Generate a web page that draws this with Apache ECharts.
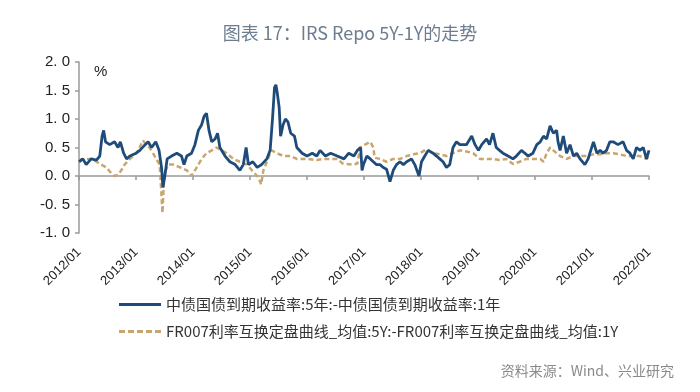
<!DOCTYPE html>
<html>
<head>
<meta charset="utf-8">
<script src="https://cdn.jsdelivr.net/npm/echarts@6/dist/echarts.min.js"></script>
<style>
html,body{margin:0;padding:0;background:#fff;}
#chart{width:700px;height:392px;}
</style>
</head>
<body>
<div id="chart"></div>
<script>
// ---- data ----
const titleText = '图表 17：IRS Repo 5Y-1Y的走势';
const sourceText = '资料来源：Wind、兴业研究';
const unitText = '%';
const seriesNames = ['中债国债到期收益率:5年:-中债国债到期收益率:1年', 'FR007利率互换定盘曲线_均值:5Y:-FR007利率互换定盘曲线_均值:1Y'];
const yTicks = [-1.0, -0.5, 0.0, 0.5, 1.0, 1.5, 2.0];

const cgbDates = ['2012-01-01','2012-01-26','2012-02-16','2012-03-19','2012-04-22','2012-05-13','2012-05-28','2012-06-07','2012-06-19','2012-07-16','2012-08-16','2012-09-07','2012-09-22','2012-10-13','2012-11-01','2012-11-22',
'2013-01-01','2013-01-25','2013-02-28','2013-03-19','2013-04-10','2013-05-07','2013-05-28','2013-06-13','2013-06-22','2013-07-04','2013-07-19','2013-08-16','2013-09-19','2013-10-19','2013-11-04','2013-11-22','2013-12-22',
'2014-01-13','2014-02-04','2014-02-25','2014-03-13','2014-03-28','2014-04-13','2014-05-01','2014-05-22','2014-06-07','2014-06-22','2014-07-25','2014-08-25','2014-09-28','2014-10-28','2014-11-19','2014-12-07','2014-12-22',
'2015-01-19','2015-02-16','2015-03-16','2015-04-19','2015-05-10','2015-05-25','2015-06-07','2015-06-16','2015-06-25','2015-07-07','2015-07-16','2015-08-01','2015-08-16','2015-09-01','2015-09-19','2015-10-13','2015-10-28','2015-12-01',
'2016-01-01','2016-02-04','2016-03-04','2016-03-25','2016-04-28','2016-06-01','2016-07-13','2016-08-25','2016-09-25','2016-10-28','2016-11-19','2016-12-10','2016-12-19','2016-12-28',
'2017-01-19','2017-02-10','2017-03-01','2017-03-22','2017-04-13','2017-05-04','2017-05-25','2017-06-16','2017-07-07','2017-07-28','2017-08-19','2017-09-10','2017-10-01','2017-11-01','2017-11-22','2017-12-19',
'2018-01-04','2018-01-25','2018-02-16','2018-03-19','2018-04-10','2018-05-01','2018-05-22','2018-06-13','2018-07-04','2018-07-25','2018-08-16','2018-09-07','2018-10-19','2018-11-22','2018-12-13',
'2019-01-04','2019-01-25','2019-02-25','2019-03-16','2019-04-07','2019-04-28','2019-05-19','2019-06-10','2019-07-13','2019-08-13','2019-09-04','2019-10-07','2019-10-28','2019-11-19','2019-12-19',
'2020-01-13','2020-02-04','2020-02-25','2020-03-16','2020-04-07','2020-04-28','2020-05-19','2020-05-28','2020-06-10','2020-07-01','2020-07-22','2020-08-13','2020-09-04','2020-09-25','2020-10-16','2020-11-16','2020-12-07',
'2021-01-10','2021-02-01','2021-02-22','2021-03-13','2021-04-04','2021-04-25','2021-05-16','2021-06-16','2021-07-19','2021-08-10','2021-09-01','2021-09-22','2021-10-13','2021-11-04','2021-11-25','2021-12-16','2022-01-01'];
const cgbSpread = [0.25,0.3,0.2,0.3,0.28,0.35,0.7,0.8,0.6,0.55,0.6,0.5,0.6,0.4,0.3,0.35,
0.4,0.45,0.55,0.6,0.5,0.6,0.45,0.15,-0.2,0.0,0.3,0.35,0.4,0.35,0.2,0.35,0.4,
0.55,0.8,0.9,1.05,1.1,0.8,0.6,0.65,0.75,0.5,0.35,0.25,0.2,0.1,0.2,0.5,0.2,
0.25,0.15,0.2,0.3,0.45,1.0,1.55,1.6,1.45,1.2,0.7,0.9,1.0,0.95,0.75,0.7,0.5,0.4,
0.35,0.4,0.35,0.45,0.35,0.4,0.35,0.3,0.4,0.35,0.45,0.5,0.1,0.2,
0.35,0.3,0.25,0.2,0.2,0.15,0.12,-0.1,0.1,0.2,0.25,0.2,0.25,0.3,0.2,0.0,
0.25,0.35,0.45,0.4,0.35,0.3,0.25,0.15,0.2,0.5,0.6,0.55,0.55,0.7,0.55,
0.45,0.55,0.65,0.55,0.75,0.5,0.45,0.4,0.35,0.3,0.35,0.45,0.4,0.35,0.4,
0.55,0.6,0.7,0.65,0.88,0.75,0.8,0.6,0.45,0.7,0.4,0.55,0.35,0.4,0.3,0.2,0.3,
0.6,0.4,0.45,0.4,0.45,0.6,0.6,0.55,0.6,0.45,0.4,0.3,0.5,0.45,0.5,0.3,0.45];

const irsDates = ['2012-01-01','2012-02-15','2012-03-19','2012-04-22','2012-05-22','2012-06-25','2012-07-25','2012-08-16','2012-09-07','2012-09-28','2012-10-19','2012-11-22','2012-12-13',
'2013-01-01','2013-01-16','2013-02-01','2013-02-15','2013-03-07','2013-03-28','2013-04-19','2013-05-10','2013-06-01','2013-06-10','2013-06-19','2013-06-28','2013-07-10','2013-07-25','2013-08-28','2013-10-10','2013-11-22','2013-12-22',
'2014-01-13','2014-02-04','2014-02-25','2014-03-28','2014-05-01','2014-06-01','2014-07-04','2014-08-04','2014-09-16','2014-10-28','2014-12-13',
'2015-01-13','2015-02-16','2015-03-07','2015-03-13','2015-03-28','2015-04-19','2015-05-10','2015-05-19','2015-06-22','2015-08-04','2015-09-16','2015-10-28',
'2016-01-01','2016-03-04','2016-04-16','2016-07-13','2016-08-16','2016-10-25','2016-11-19','2016-12-07',
'2017-01-07','2017-02-10','2017-03-01','2017-03-10','2017-04-13','2017-05-25','2017-07-07','2017-08-19','2017-10-01','2017-11-13','2017-12-25',
'2018-02-07','2018-03-19','2018-05-01','2018-06-13','2018-07-25','2018-09-07','2018-10-19','2018-12-01',
'2019-01-13','2019-02-25','2019-04-07','2019-05-19','2019-07-01','2019-08-13','2019-09-25','2019-11-07','2019-12-19',
'2020-02-04','2020-02-25','2020-03-16','2020-04-07','2020-04-28','2020-06-10','2020-07-22','2020-09-04','2020-10-16','2020-11-28',
'2021-01-10','2021-02-22','2021-04-04','2021-05-16','2021-06-28','2021-08-10','2021-09-22','2021-11-04','2021-12-16','2022-01-01'];
const irsSpread = [0.28,0.3,0.3,0.25,0.2,0.15,0.05,0.0,0.02,0.1,0.2,0.3,0.35,
0.4,0.45,0.55,0.62,0.55,0.5,0.4,0.3,0.2,-0.2,-0.65,-0.1,0.1,0.2,0.2,0.15,0.1,0.0,
0.1,0.2,0.3,0.4,0.45,0.5,0.45,0.4,0.3,0.25,0.2,
0.1,0.0,-0.1,-0.15,0.1,0.25,0.4,0.45,0.4,0.35,0.35,0.3,
0.3,0.28,0.3,0.3,0.22,0.2,0.22,0.5,
0.55,0.6,0.5,0.32,0.3,0.25,0.3,0.3,0.35,0.38,0.4,
0.47,0.4,0.38,0.35,0.4,0.45,0.43,0.4,
0.3,0.3,0.3,0.28,0.3,0.21,0.25,0.3,0.3,
0.3,0.25,0.4,0.5,0.45,0.35,0.3,0.35,0.35,0.35,
0.38,0.38,0.4,0.4,0.38,0.35,0.35,0.35,0.3,0.35];

const xMin = '2012-01-01';
const xMax = '2022-01-01';

// ---- chart ----
const chart = echarts.init(document.getElementById('chart'), null, {renderer: 'canvas'});
const cgbData = cgbDates.map((d, i) => [d, cgbSpread[i]]);
const irsData = irsDates.map((d, i) => [d, irsSpread[i]]);
const YEAR = 365 * 24 * 3600 * 1000;
const solidIcon = 'path://M0,0h42v3h-42z';
const dashIcon = 'path://M0,0h6v3h-6z M9,0h6v3h-6z M18,0h6v3h-6z M27,0h6v3h-6z M36,0h6v3h-6z';

chart.setOption({
  backgroundColor: '#ffffff',
  animation: false,
  title: {
    text: titleText,
    left: 'center',
    top: 19,
    textStyle: {fontFamily: 'Noto Sans CJK SC', fontSize: 18, fontWeight: 'normal', color: '#6d7d90'}
  },
  legend: {
    orient: 'vertical',
    left: 114,
    top: 292,
    itemWidth: 42,
    itemHeight: 3,
    itemGap: 12,
    data: [{name: seriesNames[0], icon: solidIcon}, {name: seriesNames[1], icon: dashIcon}],
    textStyle: {fontFamily: 'Noto Sans CJK SC', fontSize: 15, color: '#333'}
  },
  grid: {left: 79, right: 51, top: 62, bottom: 159, containLabel: false},
  xAxis: {
    type: 'time',
    min: xMin,
    max: xMax,
    minInterval: YEAR,
    maxInterval: YEAR + 2 * 24 * 3600 * 1000,
    splitNumber: 10,
    axisLine: {onZero: true, lineStyle: {color: '#9a9a9a', width: 1.5}},
    axisTick: {show: true, length: 4, lineStyle: {color: '#9a9a9a', width: 1.5}},
    splitLine: {show: false},
    axisLabel: {
      rotate: 45,
      margin: 17,
      fontFamily: 'Liberation Sans',
      fontSize: 13,
      color: '#222',
      hideOverlap: false,
      showMinLabel: true,
      showMaxLabel: true,
      formatter: function (v) { return echarts.time.format(v, '{yyyy}/{MM}', false); }
    }
  },
  yAxis: {
    type: 'value',
    min: yTicks[0],
    max: yTicks[yTicks.length - 1],
    interval: 0.5,
    axisLine: {show: true, lineStyle: {color: '#9a9a9a', width: 1.5}},
    axisTick: {show: true, length: 4, lineStyle: {color: '#9a9a9a', width: 1.5}},
    splitLine: {show: false},
    axisLabel: {
      margin: 9,
      fontFamily: 'Liberation Sans',
      fontSize: 15,
      color: '#222',
      formatter: function (v) { return v.toFixed(1).replace('.', '. '); }
    }
  },
  graphic: [
    {type: 'text', left: 94, top: 64, style: {text: unitText, font: '15px "Liberation Sans"', fill: '#222'}},
    {type: 'text', right: 26, top: 364, style: {text: sourceText, font: '14px "Noto Sans CJK SC"', fill: '#8a8a8a'}}
  ],
  series: [
    {
      name: seriesNames[1],
      type: 'line',
      data: irsData,
      showSymbol: false,
      symbol: 'none',
      z: 2,
      lineStyle: {color: '#c9a66f', width: 2.5, type: [5, 3]},
      itemStyle: {color: '#c9a66f'}
    },
    {
      name: seriesNames[0],
      type: 'line',
      data: cgbData,
      showSymbol: false,
      symbol: 'none',
      z: 3,
      lineStyle: {color: '#1f4b7a', width: 2.8},
      itemStyle: {color: '#1f4b7a'}
    }
  ]
});
</script>
</body>
</html>
